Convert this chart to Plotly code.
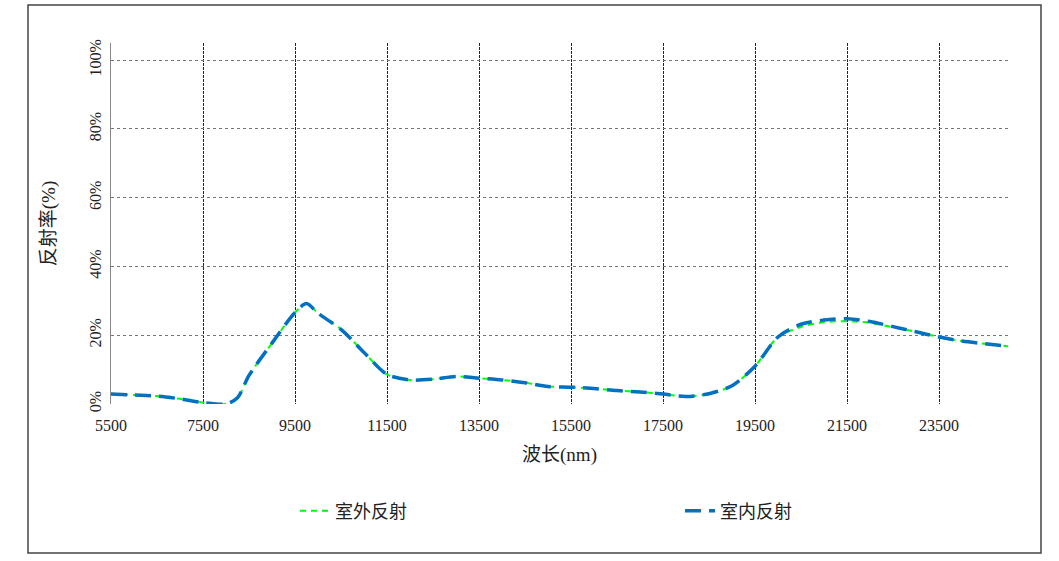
import plotly.graph_objects as go

# Data
wavelength = [5500, 6000, 6500, 7000, 7500, 8000, 8250, 8500, 9000, 9500, 9750, 10000,
              10500, 11000, 11500, 12000, 12500, 13000, 13500, 14000, 14500, 15000,
              15500, 16000, 16500, 17000, 17500, 18000, 18500, 19000, 19500, 20000,
              20500, 21000, 21500, 22000, 22500, 23000, 23500, 24000, 24500, 25000]
indoor = [2.9, 2.6, 2.3, 1.5, 0.4, 0.0, 1.8, 8.3, 17.7, 26.6, 29.2, 26.4,
          21.7, 15.0, 8.6, 7.0, 7.2, 8.0, 7.5, 7.0, 6.2, 5.1,
          4.9, 4.5, 3.9, 3.5, 2.9, 2.2, 3.0, 5.3, 11.0, 19.5,
          23.2, 24.4, 24.8, 24.0, 22.5, 21.0, 19.5, 18.3, 17.5, 16.8]
outdoor = [2.9, 2.6, 2.3, 1.5, 0.4, 0.0, 1.8, 8.3, 17.7, 26.6, 29.2, 26.4,
           21.7, 15.0, 8.6, 7.0, 7.2, 8.0, 7.5, 7.0, 6.2, 5.1,
           4.9, 4.5, 3.9, 3.5, 2.9, 2.2, 3.0, 5.3, 11.0, 19.5,
           22.4, 23.8, 24.1, 23.6, 22.3, 21.0, 19.5, 18.3, 17.5, 16.8]
x_ticks = [5500, 7500, 9500, 11500, 13500, 15500, 17500, 19500, 21500, 23500]
y_ticks = [0, 20, 40, 60, 80, 100]
series_names = ["室外反射", "室内反射"]

FONT = "Liberation Serif, Noto Sans CJK SC"

W, H = 1059, 561
L, R, T, B = 111, 51, 43, 157
PW, PH = W - L - R, H - T - B


def px_x(p):  # page pixel -> paper x
    return (p - L) / PW


def px_y(p):  # page pixel -> paper y
    return (T + PH - p) / PH


fig = go.Figure()
fig.add_trace(go.Scatter(
    x=wavelength, y=outdoor, name=series_names[0], mode="lines", legend="legend",
    line=dict(color="#00FF00", width=2, dash="6px,5px", shape="spline", smoothing=0.8),
))
fig.add_trace(go.Scatter(
    x=wavelength, y=indoor, name=series_names[1], mode="lines", legend="legend2",
    line=dict(color="#0070C0", width=3.5, dash="16px,8px", shape="spline", smoothing=0.8),
))

legend_font = dict(family=FONT, size=18, color="#222")
fig.update_layout(
    width=W, height=H,
    margin=dict(l=L, r=R, t=T, b=B),
    paper_bgcolor="white", plot_bgcolor="white",
    font=dict(family=FONT, size=16, color="#222"),
    showlegend=True,
    legend=dict(x=px_x(295), y=px_y(511), xanchor="left", yanchor="middle",
                font=legend_font, bgcolor="rgba(0,0,0,0)"),
    legend2=dict(x=px_x(680), y=px_y(511), xanchor="left", yanchor="middle",
                 font=legend_font, bgcolor="rgba(0,0,0,0)"),
    shapes=[dict(
        type="rect", xref="paper", yref="paper",
        x0=px_x(28), x1=px_x(1041), y0=px_y(553), y1=px_y(5),
        line=dict(color="#444", width=1.5), fillcolor="rgba(0,0,0,0)", layer="below",
    )],
)

fig.update_xaxes(
    range=[5500, 25000], tickvals=x_ticks, ticktext=[str(v) for v in x_ticks],
    showgrid=True, gridcolor="#222", gridwidth=1, griddash="3px,1px",
    zeroline=False, showline=False, ticks="", ticklabelstandoff=10,
    tickfont=dict(family=FONT, size=16, color="#222"),
    title=dict(text="波长(nm)", font=dict(family=FONT, size=19, color="#222"), standoff=14),
)
fig.update_yaxes(
    range=[0, 105], tickvals=y_ticks, ticktext=[f"{v}%" for v in y_ticks],
    showgrid=True, gridcolor="#777", gridwidth=1, griddash="dot",
    zeroline=False, showline=True, linecolor="#888", linewidth=1,
    ticks="", tickangle=-90, ticklabelstandoff=3,
    tickfont=dict(family=FONT, size=16, color="#222"),
    title=dict(text="反射率(%)", font=dict(family=FONT, size=19, color="#222"), standoff=25),
)

fig.write_html(
    "out.html",
    config={"displayModeBar": False},
    post_script="document.body.style.margin='0';document.body.style.overflow='hidden';",
)
